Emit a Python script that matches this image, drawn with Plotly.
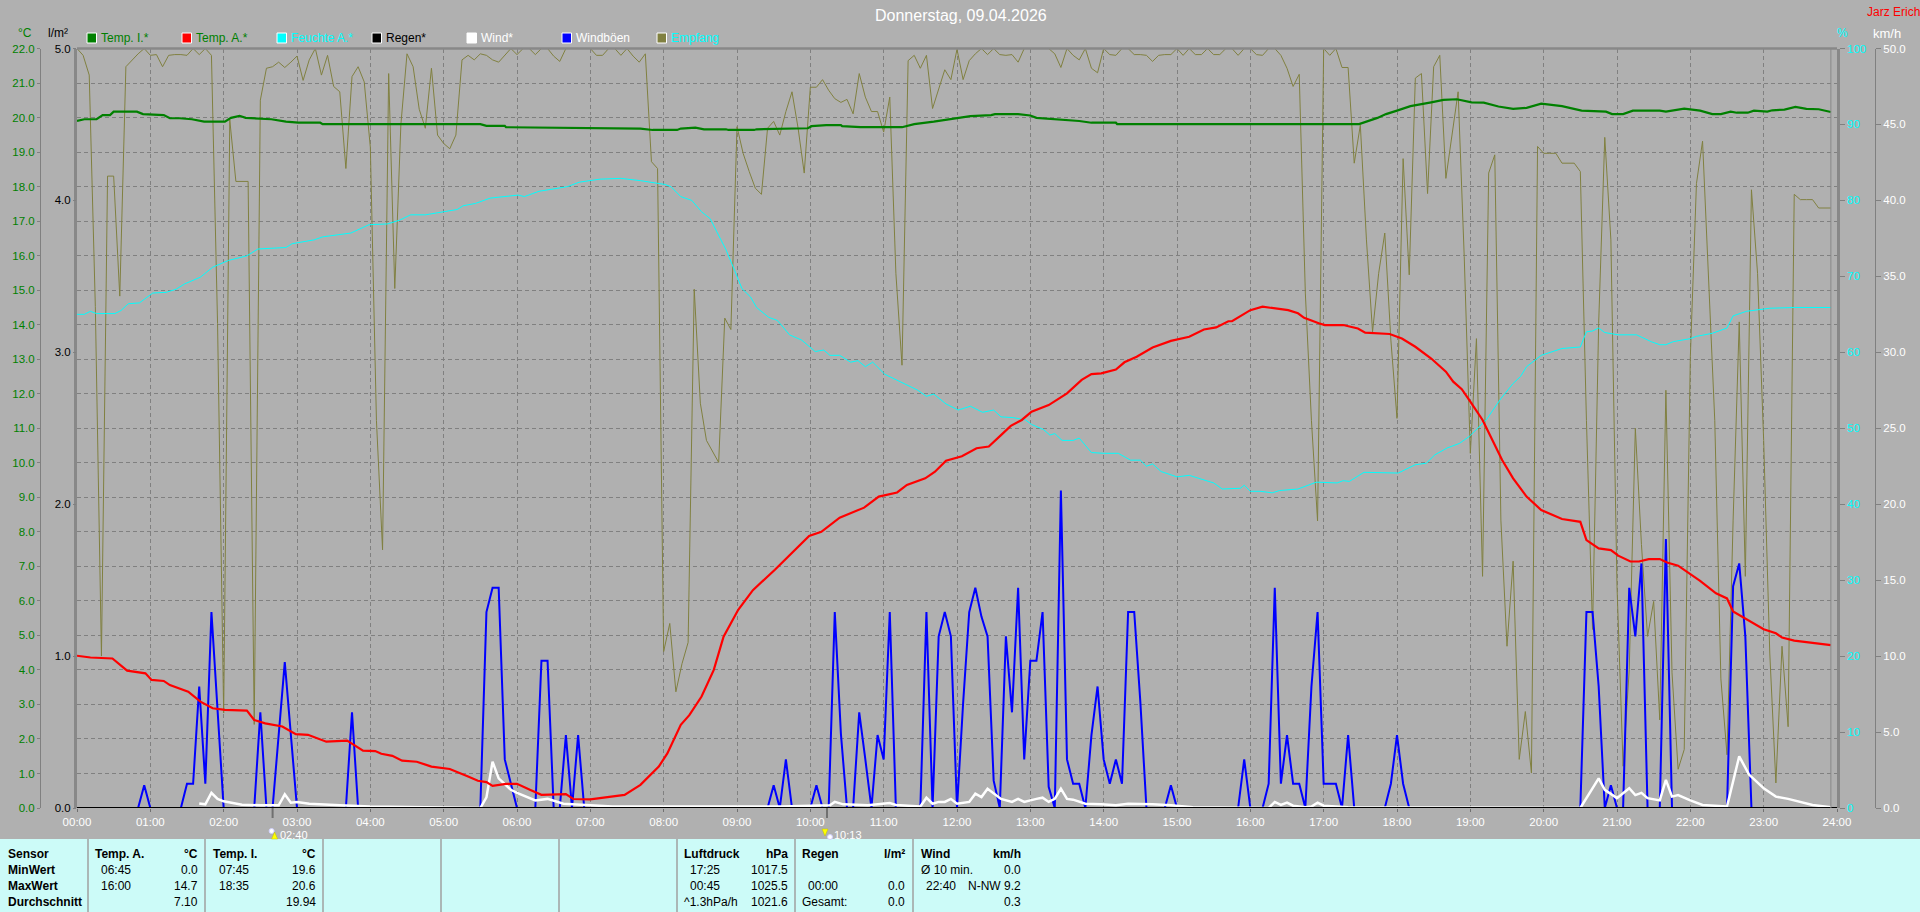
import numpy as np
import plotly.graph_objects as go

W, H = 1920, 912

# Zeiten in Minuten seit 00:00
temp_i_t = [0, 6, 16, 21, 27, 30, 49, 54, 71, 76, 84, 94, 104, 121, 126, 133, 138, 159, 171, 181, 199, 201, 330, 335, 350, 351, 461, 471, 491, 494, 506, 513, 531, 533, 554, 556, 598, 601, 613, 625, 626, 641, 675, 685, 701, 721, 731, 748, 751, 770, 780, 785, 795, 805, 820, 830, 850, 851, 1049, 1064, 1071, 1080, 1091, 1108, 1118, 1129, 1141, 1151, 1163, 1175, 1186, 1198, 1215, 1231, 1251, 1256, 1265, 1273, 1295, 1300, 1315, 1328, 1338, 1345, 1353, 1358, 1367, 1372, 1383, 1387, 1397, 1406, 1415, 1425, 1432, 1435]
temp_i = [19.9, 19.95, 19.95, 20.07, 20.07, 20.17, 20.17, 20.1, 20.07, 19.98, 19.98, 19.95, 19.88, 19.88, 19.99, 20.05, 19.99, 19.95, 19.88, 19.85, 19.85, 19.81, 19.81, 19.76, 19.76, 19.72, 19.68, 19.64, 19.64, 19.68, 19.71, 19.66, 19.66, 19.64, 19.64, 19.66, 19.69, 19.75, 19.78, 19.78, 19.75, 19.72, 19.72, 19.81, 19.88, 20.0, 20.04, 20.07, 20.1, 20.1, 20.06, 19.99, 19.97, 19.94, 19.9, 19.85, 19.85, 19.81, 19.81, 19.99, 20.1, 20.2, 20.33, 20.44, 20.51, 20.53, 20.44, 20.43, 20.32, 20.25, 20.28, 20.4, 20.33, 20.2, 20.17, 20.1, 20.1, 20.2, 20.2, 20.17, 20.26, 20.2, 20.1, 20.1, 20.17, 20.14, 20.14, 20.2, 20.17, 20.21, 20.23, 20.31, 20.25, 20.24, 20.17, 20.16]

temp_a_t = [0, 11, 29, 41, 56, 61, 71, 76, 91, 101, 111, 121, 139, 145, 154, 168, 179, 189, 204, 221, 234, 244, 249, 258, 266, 278, 290, 305, 320, 328, 335, 340, 351, 360, 371, 380, 400, 406, 420, 435, 448, 461, 468, 476, 483, 488, 494, 501, 511, 521, 529, 541, 553, 571, 586, 599, 609, 624, 644, 656, 671, 679, 694, 702, 711, 724, 736, 746, 756, 764, 773, 781, 795, 803, 810, 822, 830, 838, 850, 857, 867, 880, 895, 910, 922, 932, 942, 945, 960, 970, 984, 991, 999, 1004, 1016, 1021, 1036, 1048, 1054, 1074, 1084, 1095, 1108, 1120, 1126, 1133, 1140, 1150, 1158, 1166, 1175, 1186, 1198, 1215, 1230, 1235, 1245, 1255, 1261, 1271, 1278, 1286, 1295, 1301, 1310, 1321, 1328, 1341, 1350, 1355, 1368, 1380, 1390, 1395, 1405, 1422, 1435]
temp_a = [4.41, 4.36, 4.33, 3.98, 3.9, 3.71, 3.68, 3.56, 3.37, 3.08, 2.89, 2.84, 2.82, 2.55, 2.45, 2.36, 2.14, 2.12, 1.92, 1.95, 1.66, 1.65, 1.57, 1.51, 1.37, 1.34, 1.2, 1.13, 0.91, 0.79, 0.75, 0.64, 0.7, 0.7, 0.52, 0.38, 0.4, 0.26, 0.25, 0.33, 0.38, 0.67, 0.91, 1.2, 1.58, 1.97, 2.41, 2.69, 3.23, 4.0, 4.96, 5.74, 6.31, 6.9, 7.41, 7.88, 8.0, 8.41, 8.7, 9.02, 9.14, 9.36, 9.55, 9.74, 10.06, 10.19, 10.42, 10.47, 10.8, 11.07, 11.24, 11.48, 11.67, 11.86, 12.01, 12.4, 12.57, 12.59, 12.7, 12.91, 13.07, 13.34, 13.53, 13.65, 13.86, 13.92, 14.1, 14.1, 14.42, 14.52, 14.44, 14.42, 14.33, 14.2, 14.04, 13.99, 13.99, 13.89, 13.77, 13.73, 13.6, 13.36, 13.02, 12.64, 12.35, 12.13, 11.77, 11.24, 10.66, 10.08, 9.55, 9.02, 8.63, 8.37, 8.29, 7.76, 7.52, 7.47, 7.31, 7.14, 7.14, 7.21, 7.21, 7.11, 7.02, 6.75, 6.58, 6.22, 6.07, 5.69, 5.42, 5.18, 5.06, 4.94, 4.85, 4.77, 4.72]

feuchte_t = [0, 6, 11, 16, 31, 36, 42, 51, 62, 73, 81, 88, 101, 111, 124, 139, 148, 171, 176, 194, 201, 224, 239, 254, 264, 273, 285, 295, 311, 316, 326, 338, 361, 366, 378, 401, 411, 428, 445, 461, 481, 486, 494, 503, 511, 518, 524, 531, 538, 544, 551, 556, 566, 573, 583, 593, 604, 611, 616, 624, 633, 639, 645, 651, 661, 671, 688, 695, 701, 711, 721, 731, 741, 750, 756, 766, 776, 781, 791, 796, 800, 806, 815, 820, 830, 840, 852, 862, 870, 875, 880, 887, 900, 910, 922, 930, 937, 952, 955, 960, 968, 978, 984, 999, 1014, 1031, 1036, 1041, 1053, 1081, 1095, 1104, 1111, 1121, 1131, 1139, 1153, 1165, 1175, 1181, 1186, 1198, 1215, 1230, 1235, 1240, 1245, 1250, 1261, 1276, 1288, 1295, 1300, 1306, 1320, 1325, 1338, 1350, 1355, 1366, 1385, 1405, 1435]
feuchte = [65.0, 65.0, 65.4, 65.1, 65.1, 65.5, 66.4, 66.5, 67.8, 67.9, 68.3, 69.0, 69.9, 71.2, 72.1, 72.7, 73.6, 73.8, 74.3, 74.8, 75.2, 75.7, 76.8, 76.9, 77.4, 78.1, 78.1, 78.4, 78.8, 79.3, 79.6, 80.3, 80.7, 80.5, 81.2, 81.8, 82.4, 82.8, 82.9, 82.6, 82.1, 81.8, 80.5, 80.0, 78.5, 77.6, 75.7, 73.5, 70.8, 68.4, 67.3, 65.9, 64.6, 64.2, 62.3, 61.6, 60.1, 60.3, 59.6, 59.6, 58.7, 58.9, 58.1, 58.7, 57.1, 56.3, 55.0, 54.2, 54.5, 53.2, 52.4, 52.9, 52.1, 52.4, 51.5, 51.4, 51.1, 50.5, 49.8, 49.1, 49.3, 48.4, 48.4, 48.7, 46.8, 46.7, 46.7, 45.8, 45.8, 45.0, 45.3, 44.3, 43.6, 43.8, 43.2, 42.8, 42.0, 42.1, 42.5, 41.7, 41.7, 41.5, 41.8, 42.0, 42.9, 42.8, 43.1, 43.0, 44.2, 44.1, 45.2, 45.4, 46.5, 47.4, 48.0, 48.9, 51.1, 53.9, 55.9, 56.8, 58.1, 59.6, 60.5, 60.7, 62.7, 62.8, 63.2, 62.6, 62.3, 62.3, 61.4, 61.0, 61.0, 61.4, 61.8, 62.1, 62.5, 63.2, 64.8, 65.4, 65.8, 65.9, 65.9]

regen_t = [0, 1440]
regen = [0.0, 0.0]

wind_t = [100, 105, 110, 115, 120, 135, 150, 165, 170, 175, 180, 190, 215, 240, 330, 335, 340, 345, 355, 360, 375, 385, 398, 438, 576, 616, 620, 627, 647, 665, 670, 690, 695, 700, 705, 710, 715, 720, 730, 735, 740, 745, 756, 765, 770, 775, 785, 790, 795, 800, 805, 810, 815, 825, 838, 850, 860, 870, 880, 895, 913, 975, 980, 985, 990, 995, 1005, 1010, 1015, 1020, 1040, 1230, 1245, 1250, 1260, 1270, 1275, 1280, 1285, 1295, 1300, 1305, 1310, 1320, 1330, 1350, 1360, 1368, 1380, 1390, 1400, 1420, 1435]
wind = [0.3, 0.24, 1.0, 0.6, 0.44, 0.22, 0.18, 0.18, 0.9, 0.35, 0.4, 0.28, 0.18, 0.1, 0.0, 0.7, 3.05, 1.95, 1.2, 1.0, 0.5, 0.6, 0.28, 0.1, 0.1, 0.18, 0.4, 0.24, 0.18, 0.33, 0.2, 0.1, 0.68, 0.28, 0.4, 0.4, 0.6, 0.28, 0.4, 0.94, 0.72, 1.27, 0.6, 0.4, 0.6, 0.4, 0.6, 0.68, 0.4, 0.6, 1.27, 0.6, 0.55, 0.28, 0.24, 0.18, 0.28, 0.28, 0.24, 0.18, 0.05, 0.0, 0.4, 0.2, 0.35, 0.15, 0.05, 0.1, 0.35, 0.15, 0.05, 0.0, 1.95, 1.2, 0.65, 1.3, 0.85, 1.0, 0.65, 0.5, 1.85, 0.75, 0.85, 0.5, 0.2, 0.1, 3.4, 2.2, 1.3, 0.75, 0.6, 0.2, 0.05]

boeen_t = [50, 55, 60, 85, 90, 95, 100, 105, 110, 120, 145, 150, 155, 160, 170, 180, 220, 225, 230, 330, 335, 340, 345, 350, 360, 375, 380, 385, 390, 395, 400, 405, 410, 415, 565, 570, 575, 580, 585, 600, 605, 610, 615, 620, 625, 630, 635, 640, 645, 650, 655, 660, 665, 670, 690, 695, 700, 705, 710, 715, 720, 725, 730, 735, 740, 745, 750, 755, 760, 765, 770, 775, 780, 785, 790, 795, 800, 805, 810, 815, 820, 825, 830, 835, 840, 845, 850, 855, 860, 865, 870, 875, 890, 895, 900, 950, 955, 960, 970, 975, 980, 985, 990, 995, 1000, 1005, 1010, 1015, 1020, 1030, 1035, 1040, 1045, 1070, 1075, 1080, 1085, 1090, 1230, 1235, 1240, 1245, 1250, 1255, 1260, 1265, 1270, 1275, 1280, 1285, 1295, 1300, 1305, 1350, 1355, 1360, 1365, 1370]
boeen = [0, 1.5, 0, 0, 1.6, 1.6, 8, 1.6, 12.9, 0, 0, 6.3, 0, 0, 9.6, 0, 0, 6.3, 0, 0, 12.9, 14.5, 14.5, 3.2, 0, 0, 9.7, 9.7, 0, 0, 4.8, 0, 4.8, 0, 0, 1.5, 0, 3.2, 0, 0, 1.5, 0, 0, 12.9, 4.9, 0, 0, 6.3, 3.2, 0, 4.8, 3.2, 12.9, 0, 0, 12.9, 0, 11.3, 12.9, 11.3, 0, 6.9, 12.9, 14.5, 12.6, 11.3, 1.8, 0, 11.3, 6.3, 14.5, 3.2, 9.7, 9.7, 12.9, 1.4, 0, 20.9, 3.2, 1.6, 1.6, 0, 4.8, 8, 3.2, 1.6, 3.2, 1.6, 12.9, 12.9, 7, 0, 0, 1.5, 0, 0, 3.2, 0, 0, 1.6, 14.5, 1.6, 4.8, 1.6, 1.6, 0, 8, 12.9, 1.6, 1.6, 0, 4.8, 0, 0, 1.6, 4.8, 1.6, 0, 0, 12.9, 12.9, 8, 0, 1.5, 0, 0, 14.5, 11.3, 16.1, 0, 0, 17.7, 0, 0, 14.6, 16.1, 11.3, 0]

empfang_t = list(range(0, 1440, 5))
empfang = [100, 99.1, 96.5, 66, 20, 83.2, 83.2, 67.4, 97.6, 98.5, 99.3, 100, 99.1, 99.2, 97.6, 99.1, 99.2, 99.2, 99.1, 100,
           99.2, 100, 99.1, 63.8, 12.5, 90.6, 82.5, 82.5, 82.5, 11, 93.2, 97.4, 97.6, 98.2, 97.5, 98.2, 99, 95.8, 98.5, 100,
           96.5, 99.1, 95, 94.3, 84.2, 96.3, 97.6, 95.6, 87, 51, 34, 96.7, 68.4, 90, 99.3, 97.6, 92, 89.5, 97.4, 88.6,
           87.5, 86.8, 88.6, 98.5, 99.1, 98.5, 99.3, 99.1, 98.5, 98.2, 99.1, 100, 99.2, 100, 100, 99.2, 100, 100, 99, 98.3,
           100, 100, 100, 100, 100, 99.1, 99.1, 100, 100, 99.1, 100, 99, 98.2, 99.3, 85.1, 84.2, 20.6, 24.3, 15.3, 19,
           21.8, 68.3, 53.3, 48.4, 47, 45.5, 64.5, 63, 89.7, 86.2, 83.8, 81.6, 80.8, 89.5, 90.4, 88.6, 91.7, 94.3, 89.5, 83.6,
           94.9, 94.9, 95.9, 94.5, 93.4, 92.9, 93.3, 91.4, 96.7, 93.6, 91.7, 91.7, 89, 93.6, 70.4, 58.3, 98.4, 99.1, 97.4, 99.1,
           92.1, 94.7, 97.2, 95.9, 99.9, 95.9, 98.4, 99.3, 100, 99.2, 100, 99.2, 99.1, 99.2, 98.2, 100, 100, 100, 100, 100,
           99.3, 97.5, 100, 99.1, 98.5, 100, 97.4, 96.8, 100, 99.2, 99.1, 100, 100, 99.2, 99.2, 99.1, 98.3, 99.1, 99.2, 99.2,
           100, 99.1, 100, 99.2, 99.2, 100, 99.2, 99.2, 100, 100, 99.1, 100, 100, 99.2, 99.1, 100, 100, 99.1, 97.4, 95,
           96.6, 67.8, 51, 37.8, 100, 99.1, 100, 97.5, 97.5, 84.9, 89.9, 74.8, 62.7, 70.4, 75.7, 61.6, 51.3, 85.5, 70.2, 96.1,
           96.7, 80.9, 97.6, 99.1, 82.9, 88.8, 94.3, 72.6, 46.7, 61.8, 30.5, 83.6, 86, 37.9, 21.3, 32.5, 6.4, 12.7, 4.6, 87.1,
           86.2, 86.2, 86.2, 84.9, 84.9, 84.9, 83.8, 51, 23.5, 63.8, 88.3, 74.8, 29.2, 5.5, 18.2, 50, 34.7, 22.6, 27.2, 11.6,
           55, 17.8, 5.1, 7.7, 59.4, 82.2, 87.8, 70.4, 51, 17, 7, 37.9, 64, 30.5, 81.4, 70.4, 48.4, 20.4, 3.3, 21.3,
           10.7, 80.8, 80.1, 80.1, 80.1, 79, 79, 79]
empfang_t = empfang_t[:len(empfang)]

stunden = list(range(25))
stunden_text = [f"{h:02d}:00" for h in stunden]
astro_zeiten = ["02:40", "10:13"]

legende_namen = ["Temp. I.*", "Temp. A.*", "Feuchte A.*", "Regen*", "Wind*", "Windböen", "Empfang"]
legende_farben = ["#008000", "#ff0000", "#00ffff", "#000000", "#ffffff", "#0000ff", "#808040"]
legende_text = ["#008000", "#008000", "#00ffff", "#000000", "#ffffff", "#ffffff", "#00ffff"]

# Tabelle unten: (x, Zeile, Text, Ausrichtung, fett)
tabelle = [
    (8, 0, "Sensor", "left", True), (8, 1, "MinWert", "left", True), (8, 2, "MaxWert", "left", True), (8, 3, "Durchschnitt", "left", True),
    (95, 0, "Temp. A.", "left", True), (198, 0, "°C", "right", True), (101, 1, "06:45", "left", False), (198, 1, "0.0", "right", False),
    (101, 2, "16:00", "left", False), (198, 2, "14.7", "right", False), (198, 3, "7.10", "right", False),
    (213, 0, "Temp. I.", "left", True), (316, 0, "°C", "right", True), (219, 1, "07:45", "left", False), (316, 1, "19.6", "right", False),
    (219, 2, "18:35", "left", False), (316, 2, "20.6", "right", False), (316, 3, "19.94", "right", False),
    (684, 0, "Luftdruck", "left", True), (788, 0, "hPa", "right", True), (690, 1, "17:25", "left", False), (788, 1, "1017.5", "right", False),
    (690, 2, "00:45", "left", False), (788, 2, "1025.5", "right", False), (684, 3, "^1.3hPa/h", "left", False), (788, 3, "1021.6", "right", False),
    (802, 0, "Regen", "left", True), (905, 0, "l/m²", "right", True), (808, 2, "00:00", "left", False), (905, 2, "0.0", "right", False),
    (802, 3, "Gesamt:", "left", False), (905, 3, "0.0", "right", False),
    (921, 0, "Wind", "left", True), (1021, 0, "km/h", "right", True), (921, 1, "Ø 10 min.", "left", False), (1021, 1, "0.0", "right", False),
    (926, 2, "22:40", "left", False), (1021, 2, "N-NW 9.2", "right", False), (1021, 3, "0.3", "right", False),
]
tabelle_trenner = [88, 205, 323, 441, 559, 677, 795, 913]
zeilen_y = [854, 870, 886, 902]

HG = "#b0b0b0"
GITTER = "#808080"
FONT = "Liberation Sans"


def px(x):
    return x / W


def py(y):
    return 1 - y / H


def text(x, y, s, color="#000000", size=12, anchor="left", bold=False):
    return dict(x=px(x), y=py(y), xref="paper", yref="paper", text=f"<b>{s}</b>" if bold else s,
                showarrow=False, xanchor=anchor, yanchor="middle",
                font=dict(family=FONT, size=size, color=color), borderpad=0, borderwidth=0)


def stunde(t):
    return np.array(t) / 60


fig = go.Figure()
# Reihenfolge: Empfang/Feuchte unten, Temperaturen oben
fig.add_trace(go.Scatter(x=stunde(empfang_t), y=empfang, mode="lines", line=dict(color="#808040", width=1), yaxis="y"))
fig.add_trace(go.Scatter(x=stunde(feuchte_t), y=feuchte, mode="lines", line=dict(color="#00ffff", width=1), yaxis="y"))
fig.add_trace(go.Scatter(x=stunde(boeen_t), y=boeen, mode="lines", line=dict(color="#0000ff", width=2), yaxis="y2"))
fig.add_trace(go.Scatter(x=stunde(wind_t), y=wind, mode="lines", line=dict(color="#ffffff", width=2.5), yaxis="y2"))
fig.add_trace(go.Scatter(x=stunde(regen_t), y=regen, mode="lines", line=dict(color="#000000", width=2), yaxis="y3", cliponaxis=False))
fig.add_trace(go.Scatter(x=stunde(temp_i_t), y=temp_i, mode="lines", line=dict(color="#008000", width=2.2), yaxis="y4"))
fig.add_trace(go.Scatter(x=stunde(temp_a_t), y=temp_a, mode="lines", line=dict(color="#ff0000", width=2.2), yaxis="y4"))

dom_x = [px(77), px(1837)]
dom_y = [py(808), py(48.5)]
tf = dict(family=FONT, size=11.5)

annos = [
    text(961, 15, "Donnerstag, 09.04.2026", "#ffffff", 16, "center"),
    text(1893, 12, "Jarz Erich", "#ff0000", 12, "center"),
    text(25, 33, "°C", "#008000", 12, "center"),
    text(58, 33, "l/m²", "#000000", 12, "center"),
    text(1842, 33, "%", "#00ffff", 12, "center"),
    text(1887, 33, "km/h", "#ffffff", 13, "center"),
]
shapes = []

# Legende
for i, (name, farbe, tfarbe) in enumerate(zip(legende_namen, legende_farben, legende_text)):
    x0 = 87 + 95 * i
    shapes.append(dict(type="rect", xref="paper", yref="paper", x0=px(x0), x1=px(x0 + 9.5), y0=py(43), y1=py(33),
                       fillcolor=farbe, line=dict(color="#ffffff", width=1)))
    annos.append(text(x0 + 14, 38.5, name, tfarbe))

# Unteres Feld
shapes.append(dict(type="rect", xref="paper", yref="paper", x0=0, x1=1, y0=0, y1=py(839), fillcolor="#ccfbf8", line=dict(width=0), layer="below"))
for x in tabelle_trenner:
    shapes.append(dict(type="line", xref="paper", yref="paper", x0=px(x), x1=px(x), y0=0, y1=py(839), line=dict(color="#a0a0a0", width=1.5)))
for x, z, s, a, b in tabelle:
    annos.append(text(x, zeilen_y[z], s, "#000000", 12, a, b))

# Linie rechts vor dem Rand
shapes.append(dict(type="line", xref="x", yref="paper", x0=1435 / 60, x1=1435 / 60, y0=dom_y[0], y1=dom_y[1], line=dict(color="#888888", width=1)))
# oberer Rand
shapes.append(dict(type="line", xref="paper", yref="paper", x0=dom_x[0], x1=dom_x[1], y0=dom_y[1], y1=dom_y[1], line=dict(color="#888888", width=2.5)))

# Auf-/Untergang Markierungen
for zeit, xm, pfeil_oben in zip(astro_zeiten, [272.6, 827], [True, False]):
    shapes.append(dict(type="line", xref="paper", yref="paper", x0=px(xm), x1=px(xm), y0=py(808), y1=py(818), line=dict(color="#707070", width=2)))
    cx, cy = (xm - 1, 831) if pfeil_oben else (xm + 3, 837)
    shapes.append(dict(type="circle", xref="paper", yref="paper", x0=px(cx - 2.5), x1=px(cx + 2.5), y0=py(cy + 2.5), y1=py(cy - 2.5),
                       fillcolor="#ffffff", line=dict(color="#d0d0ff", width=1)))
    ax = xm + 2 if pfeil_oben else xm - 2
    if pfeil_oben:
        pfad = f"M {px(ax - 3)} {py(839)} L {px(ax + 3)} {py(839)} L {px(ax)} {py(832)} Z"
    else:
        pfad = f"M {px(ax - 3)} {py(829)} L {px(ax + 3)} {py(829)} L {px(ax)} {py(836)} Z"
    shapes.append(dict(type="path", xref="paper", yref="paper", path=pfad, fillcolor="#ffff00", line=dict(color="#c0c000", width=0.5)))
    annos.append(text(xm + 7, 834.5, zeit, "#ffffff", 11))

fig.update_layout(
    width=W, height=H, margin=dict(l=0, r=0, t=0, b=0, autoexpand=False),
    paper_bgcolor=HG, plot_bgcolor=HG, showlegend=False, hovermode=False,
    annotations=annos, shapes=shapes,
    xaxis=dict(domain=dom_x, range=[0, 24], tickvals=stunden, ticktext=stunden_text, ticks="outside", ticklen=3,
               tickcolor="#707070", tickfont=dict(color="#ffffff", **tf), showgrid=True, gridcolor=GITTER, griddash="4px,3px",
               gridwidth=1, zeroline=False, showline=False),
    yaxis=dict(domain=dom_y, range=[0, 100], side="right", anchor="x", tickvals=list(range(0, 101, 10)), ticks="outside", ticklen=5,
               tickcolor="#808080", tickfont=dict(color="#00ffff", **tf), showgrid=False, zeroline=False,
               showline=True, linecolor="#888888", linewidth=2.5, mirror=True),
    yaxis2=dict(domain=dom_y, range=[0, 50], overlaying="y", side="right", anchor="free", position=px(1875), dtick=5, tickformat=".1f",
                ticks="outside", ticklen=5, tickcolor="#808080", tickfont=dict(color="#ffffff", **tf), showgrid=False, zeroline=False,
                showline=True, linecolor="#808080", linewidth=1),
    yaxis3=dict(domain=dom_y, range=[0, 5], overlaying="y", side="left", anchor="x", dtick=1, tickformat=".1f",
                ticks="outside", ticklen=3, tickcolor="#808080", tickfont=dict(color="#000000", **tf), showgrid=False, zeroline=False),
    yaxis4=dict(domain=dom_y, range=[0, 22], overlaying="y", side="left", anchor="free", position=px(40), dtick=1, tickformat=".1f",
                ticks="outside", ticklen=3, tickcolor="#808080", tickfont=dict(color="#008000", **tf), showgrid=True, gridcolor=GITTER,
                griddash="4px,3px", gridwidth=1, zeroline=False, showline=True, linecolor="#808080", linewidth=1),
)

fig.write_html("out.html", config={"displayModeBar": False},
               post_script="document.body.style.margin='0';document.body.style.overflow='hidden';")
